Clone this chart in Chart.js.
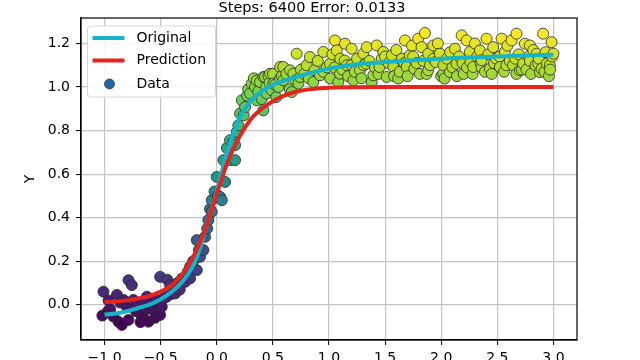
<!DOCTYPE html>
<html>
<head>
<meta charset="utf-8">
<script src="https://cdn.jsdelivr.net/npm/chart.js@4"></script>
<style>
  html, body { margin: 0; padding: 0; background: #fff; }
  canvas { display: block; }
</style>
</head>
<body>
<canvas id="fitChart" width="640" height="360"></canvas>
<script>
// curves
const origX = [-1.0, -0.9, -0.8, -0.7, -0.6, -0.5, -0.4, -0.3, -0.2, -0.15, -0.1, -0.05, 0.0, 0.05, 0.1, 0.15, 0.2, 0.3, 0.4, 0.5, 0.6, 0.8, 1.0, 1.25, 1.5, 2.0, 2.5, 3.0];
const origY = [-0.045, -0.04, -0.03, -0.015, 0.0, 0.025, 0.06, 0.11, 0.19, 0.26, 0.35, 0.43, 0.52, 0.62, 0.71, 0.79, 0.855, 0.935, 0.98, 1.01, 1.03, 1.06, 1.085, 1.105, 1.115, 1.13, 1.14, 1.148];

const predX = [-1.0, -0.8, -0.6, -0.5, -0.4, -0.3, -0.2, -0.1, 0.0, 0.1, 0.2, 0.3, 0.4, 0.5, 0.6, 0.7, 0.8, 1.0, 1.5, 2.0, 3.0];
const predY = [0.012, 0.02, 0.04, 0.06, 0.09, 0.145, 0.23, 0.35, 0.51, 0.66, 0.77, 0.85, 0.90, 0.935, 0.96, 0.977, 0.988, 0.997, 1.0, 1.0, 1.0];

// noisy samples
const dataX = [
  -1.01, -1.02, -0.97, -0.965, -0.95, -0.92, -0.89, -0.876, -0.86, -0.846, -0.83, -0.80, -0.787, -0.787, -0.757, -0.743,
  -0.72, -0.70, -0.683, -0.68, -0.654, -0.64, -0.623, -0.62, -0.609, -0.59, -0.565, -0.55, -0.534, -0.505, -0.505, -0.49,
  -0.47, -0.445, -0.44, -0.416, -0.40, -0.371, -0.35, -0.33, -0.31, -0.282,
  -0.26, -0.238, -0.238, -0.21, -0.178, -0.178, -0.16, -0.149, -0.119, -0.104, -0.085, -0.075, -0.06, -0.045, -0.045,
  -0.02, 0.0, 0.01, 0.03, 0.045,
  0.059, 0.074, 0.09, 0.118, 0.118, 0.148, 0.163, 0.163, 0.178, 0.192, 0.207, 0.223, 0.24, 0.252, 0.27, 0.28, 0.297,
  0.312, 0.33, 0.341, 0.356, 0.356, 0.37, 0.386, 0.40, 0.415, 0.415, 0.43, 0.44, 0.445, 0.46, 0.47, 0.475, 0.49, 0.5,
  0.504, 0.52, 0.53, 0.55, 0.564, 0.564, 0.58, 0.593, 0.593, 0.62, 0.65, 0.653, 0.668, 0.682, 0.7, 0.712, 0.727, 0.742,
  0.75, 0.78, 0.801, 0.82, 0.83, 0.86, 0.87, 0.9, 0.92, 0.949, 0.95, 0.98, 1.009, 1.01, 1.03, 1.05, 1.053, 1.069, 1.083,
  1.098, 1.1, 1.12, 1.14, 1.142, 1.16, 1.17, 1.2, 1.202, 1.217, 1.23, 1.25, 1.276, 1.29, 1.306, 1.31, 1.33, 1.336, 1.36,
  1.38, 1.395, 1.41, 1.425, 1.44, 1.45, 1.47, 1.484, 1.5, 1.514, 1.53, 1.56, 1.573, 1.58,
  1.6, 1.617, 1.63, 1.65, 1.67, 1.677, 1.692, 1.7, 1.72, 1.74, 1.75, 1.76, 1.78, 1.795, 1.81, 1.825, 1.84, 1.855, 1.87,
  1.884, 1.884, 1.9, 1.929, 1.93, 1.95, 1.97, 1.988, 2.0, 2.018, 2.02, 2.03, 2.05, 2.077, 2.08, 2.1, 2.122, 2.137, 2.14,
  2.16, 2.182, 2.19, 2.2, 2.226, 2.23, 2.255, 2.26, 2.28, 2.285, 2.3, 2.32, 2.345, 2.35, 2.36, 2.36, 2.39, 2.404, 2.42,
  2.434, 2.45, 2.463, 2.47, 2.49, 2.52, 2.523, 2.538, 2.56, 2.567, 2.58, 2.59, 2.61, 2.627, 2.64, 2.66, 2.67, 2.671,
  2.69, 2.701, 2.72, 2.73, 2.745, 2.76, 2.78, 2.79, 2.79, 2.8, 2.82, 2.84, 2.85, 2.864, 2.87, 2.879, 2.894, 2.908, 2.92,
  2.93, 2.94, 2.96, 2.968, 2.97, 2.983, 2.99, 3.0
];
const dataY = [
  0.06, -0.05, -0.03, 0.02, -0.02, -0.055, 0.045, -0.078, 0.01, -0.093, 0.022, -0.01, 0.113, -0.07, 0.09, 0.022,
  -0.03, 0.005, -0.04, -0.08, -0.062, 0.01, 0.037, -0.02, -0.078, 0.0, -0.024, -0.06, 0.022, -0.047, 0.128, -0.01,
  0.03, 0.037, 0.115, 0.09, 0.05, 0.052, 0.10, 0.07, 0.12, 0.105,
  0.15, 0.121, 0.174, 0.20, 0.159, 0.297, 0.25, 0.22, 0.251, 0.312, 0.35, 0.389, 0.44, 0.427, 0.48,
  0.52, 0.587, 0.50, 0.495, 0.48,
  0.664, 0.564, 0.72, 0.756, 0.664, 0.748, 0.664, 0.733, 0.794, 0.824, 0.878, 0.939, 0.87, 0.908, 0.96, 0.99, 0.97,
  1.016, 1.04, 1.0, 0.939, 1.03, 0.98, 1.023, 0.945, 0.893, 1.046, 1.046, 1.0, 0.97, 1.05, 1.02, 1.061, 0.985, 1.06,
  1.016, 1.01, 0.954, 1.0, 1.092, 1.039, 1.05, 1.031, 1.092, 1.06, 0.99, 1.077, 0.977, 1.061, 1.03, 1.153, 1.016, 1.046,
  1.08, 1.06, 1.10, 1.04, 1.138, 1.023, 1.077, 1.12, 1.054, 1.161, 1.07, 1.09, 1.107, 1.039, 1.15, 1.09, 1.214, 1.168, 1.023,
  1.061, 1.13, 1.08, 1.122, 1.199, 1.1, 1.05, 1.10, 1.176, 1.031, 1.07, 1.13, 1.077, 1.04, 1.153, 1.1, 1.107, 1.183, 1.12,
  1.023, 1.054, 1.09, 1.191, 1.06, 1.092, 1.13, 1.161, 1.14, 1.046, 1.11, 1.146, 1.092, 1.05,
  1.17, 1.039, 1.07, 1.13, 1.11, 1.214, 1.092, 1.05, 1.146, 1.19, 1.14, 1.084, 1.11, 1.222, 1.06, 1.183, 1.12, 1.248, 1.06,
  1.153, 1.077, 1.10, 1.191, 1.13, 1.115, 1.2, 1.153, 1.05, 1.061, 1.1, 1.039, 1.13, 1.069, 1.16, 1.09, 1.176, 1.107, 1.05,
  1.14, 1.237, 1.11, 1.06, 1.214, 1.09, 1.161, 1.115, 1.06, 1.092, 1.2, 1.14, 1.168, 1.11, 1.09, 1.123, 1.07, 1.222, 1.15,
  1.084, 1.06, 1.183, 1.11, 1.13, 1.14, 1.092, 1.222, 1.07, 1.161, 1.1, 1.19, 1.12, 1.214, 1.10, 1.13, 1.06, 1.245,
  1.15, 1.077, 1.08, 1.107, 1.199, 1.08, 1.14, 1.191, 1.12, 1.06, 1.17, 1.1, 1.153, 1.107, 1.13, 1.069, 1.084, 1.245, 1.07,
  1.16, 1.107, 1.05, 1.10, 1.08, 1.206, 1.14, 1.153
];

const xTicks = [-1.0, -0.5, 0.0, 0.5, 1.0, 1.5, 2.0, 2.5, 3.0];
const yTicks = [0.0, 0.2, 0.4, 0.6, 0.8, 1.0, 1.2];

const FONT = "'DejaVu Sans', sans-serif";

// viridis colormap stops
const viridis = ['#440154', '#482475', '#414487', '#355f8d', '#2a788e', '#21918c', '#22a884', '#44bf70', '#7ad151', '#bddf26', '#fde725'];
function hexRgb(h) {
  return [parseInt(h.slice(1, 3), 16), parseInt(h.slice(3, 5), 16), parseInt(h.slice(5, 7), 16)];
}
function viridisAt(t) {
  t = Math.max(0, Math.min(1, t));
  const p = t * (viridis.length - 1);
  const i = Math.min(Math.floor(p), viridis.length - 2);
  const f = p - i;
  const a = hexRgb(viridis[i]), b = hexRgb(viridis[i + 1]);
  const c = a.map((v, k) => Math.round(v + (b[k] - v) * f));
  return 'rgb(' + c.join(',') + ')';
}
const yMin = Math.min(...dataY), yMax = Math.max(...dataY);
const pointColors = dataY.map(v => viridisAt((v - yMin) / (yMax - yMin)));

const fmt = v => (v < 0 ? '\u2212' : '') + Math.abs(v).toFixed(1);

// title, frame and legend the way matplotlib draws them
const mplBits = {
  id: 'mplBits',
  afterDraw(chart) {
    const ctx = chart.ctx;
    const ca = chart.chartArea;
    ctx.save();
    ctx.strokeStyle = '#000';
    ctx.lineWidth = 1.2;
    ctx.strokeRect(ca.left, ca.top, ca.right - ca.left, ca.bottom - ca.top);

    ctx.fillStyle = '#000';
    ctx.font = '14.5px ' + FONT;
    ctx.textAlign = 'center';
    ctx.textBaseline = 'middle';
    ctx.fillText('Steps: 6400 Error: 0.0133', 312, 8);

    // legend box
    const bx = ca.left + 6.5, by = ca.top + 8, bw = 128, bh = 71;
    ctx.beginPath();
    ctx.roundRect(bx, by, bw, bh, 3);
    ctx.fillStyle = 'rgba(255,255,255,0.85)';
    ctx.fill();
    ctx.strokeStyle = '#d6d6d6';
    ctx.lineWidth = 1;
    ctx.stroke();

    const ds = chart.data.datasets;
    const rows = [by + 12, by + 34.5, by + 58];
    ctx.textAlign = 'left';
    ctx.font = '14px ' + FONT;
    ds.forEach((d, i) => {
      const yy = rows[i];
      if (d.showLine) {
        ctx.beginPath();
        ctx.moveTo(bx + 5, yy);
        ctx.lineTo(bx + 37, yy);
        ctx.strokeStyle = d.borderColor;
        ctx.lineWidth = 4;
        ctx.stroke();
      } else {
        ctx.beginPath();
        ctx.arc(bx + 22, yy, 5, 0, Math.PI * 2);
        ctx.fillStyle = '#2367ab';
        ctx.fill();
        ctx.strokeStyle = '#1a1a1a';
        ctx.lineWidth = 0.6;
        ctx.stroke();
      }
      ctx.fillStyle = '#000';
      ctx.fillText(d.label, bx + 49, yy);
    });
    ctx.restore();
  }
};

new Chart(document.getElementById('fitChart'), {
  type: 'scatter',
  data: {
    datasets: [{
      label: 'Original',
      data: origX.map((x, i) => ({ x: x, y: origY[i] })),
      showLine: true,
      borderColor: '#17b3c9',
      borderWidth: 4,
      pointRadius: 0,
      cubicInterpolationMode: 'monotone',
      order: 1
    }, {
      label: 'Prediction',
      data: predX.map((x, i) => ({ x: x, y: predY[i] })),
      showLine: true,
      borderColor: '#e8231c',
      borderWidth: 4,
      pointRadius: 0,
      cubicInterpolationMode: 'monotone',
      order: 0
    }, {
      label: 'Data',
      data: dataX.map((x, i) => ({ x: x, y: dataY[i] })),
      pointRadius: 5.5,
      pointBackgroundColor: pointColors,
      pointBorderColor: '#2a2a2a',
      pointBorderWidth: 0.8,
      order: 2
    }]
  },
  options: {
    responsive: false,
    animation: false,
    devicePixelRatio: 1,
    layout: {
      padding: { left: 18, right: 63, top: 18, bottom: 0 }
    },
    plugins: {
      legend: { display: false },
      tooltip: { enabled: false }
    },
    scales: {
      x: {
        type: 'linear',
        min: -1.21,
        max: 3.21,
        afterBuildTicks: s => { s.ticks = xTicks.map(v => ({ value: v })); },
        afterFit: s => { s.height = 20; },
        grid: { color: '#c4c4c4', lineWidth: 1.2, tickColor: '#000', tickLength: 5, tickWidth: 1 },
        border: { color: '#000', width: 1.2 },
        ticks: {
          color: '#000',
          font: { family: FONT, size: 14 },
          padding: 5,
          maxRotation: 0,
          callback: v => fmt(v)
        }
      },
      y: {
        min: -0.162,
        max: 1.317,
        afterBuildTicks: s => { s.ticks = yTicks.map(v => ({ value: v })); },
        afterFit: s => { s.width = 63; },
        grid: { color: '#c4c4c4', lineWidth: 1.2, tickColor: '#000', tickLength: 5, tickWidth: 1 },
        border: { color: '#000', width: 1.2 },
        title: {
          display: true,
          text: 'Y',
          color: '#000',
          font: { family: FONT, size: 14 },
          padding: { top: 4, bottom: 0 }
        },
        ticks: {
          color: '#000',
          font: { family: FONT, size: 14 },
          padding: 6,
          callback: v => fmt(v)
        }
      }
    }
  },
  plugins: [mplBits]
});
</script>
</body>
</html>
